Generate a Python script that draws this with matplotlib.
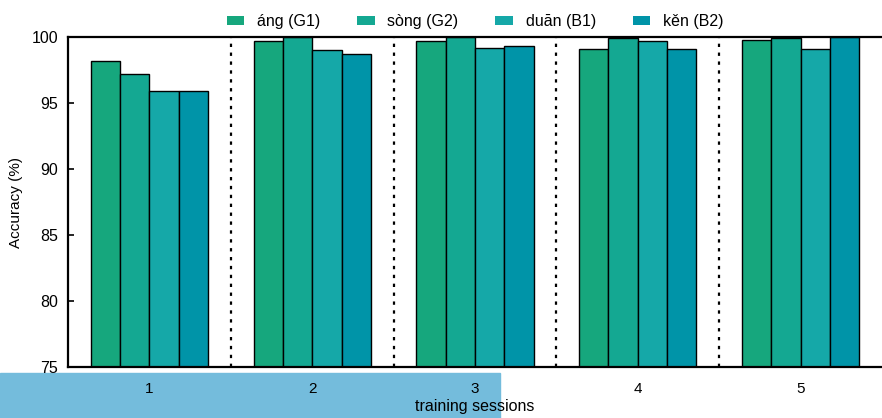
import matplotlib
matplotlib.use("Agg")
import matplotlib.pyplot as plt
from matplotlib.patches import Rectangle
import numpy as np

plt.rcParams["font.family"] = ["Liberation Sans", "DejaVu Sans"]
plt.rcParams["font.size"] = 11

sessions = ["1", "2", "3", "4", "5"]
series = ["áng (G1)", "sòng (G2)", "duān (B1)", "kěn (B2)"]
g1 = [98.2, 99.7, 99.7, 99.1, 99.8]
g2 = [97.2, 100.0, 100.0, 99.9, 99.9]
b1 = [95.9, 99.0, 99.2, 99.7, 99.1]
b2 = [95.9, 98.7, 99.3, 99.1, 100.0]
colors = ["#16a77d", "#14a892", "#15a8a8", "#0094a8"]

BARW = 0.18

fig = plt.figure(figsize=(8.82, 4.18), dpi=100, facecolor="white")
ax = fig.add_axes([68 / 882, 51 / 418, 1 - 68 / 882, 330 / 418])

xs = np.arange(len(sessions))
for i, (name, vals) in enumerate(zip(series, [g1, g2, b1, b2])):
    offs = (i - 1.5) * BARW
    ax.bar(xs + offs, np.array(vals) - 75, bottom=75, width=BARW,
           color=colors[i], edgecolor="black", linewidth=1.0,
           label=name, zorder=2)

# dotted separators between sessions
for s in xs[:-1] + 0.5:
    ax.axvline(s, color="black", ls=(0, (1.5, 2.5)), lw=1.6, zorder=1)

ax.set_xlim(-0.5, len(sessions) - 0.5)
ax.set_ylim(75, 100)
ax.set_yticks([75, 80, 85, 90, 95, 100])
ax.set_xticks(xs, sessions)
ax.tick_params(axis="x", length=0, pad=11)
ax.tick_params(axis="y", direction="in", length=4, width=1.2, pad=7,
               labelsize=11.5)
for sp in ["left", "top", "bottom"]:
    ax.spines[sp].set_linewidth(1.6)
ax.spines["right"].set_visible(False)

ax.set_ylabel("Accuracy (%)", fontsize=11, labelpad=6)
ax.set_xlabel("training sessions", fontsize=11.5, labelpad=2)

leg = ax.legend(loc="lower center", bbox_to_anchor=(0.5, 1.0), ncol=4,
                frameon=False, fontsize=11.5, handlelength=1.1,
                handleheight=0.55, columnspacing=2.3, handletextpad=0.8,
                borderaxespad=0.1)
for h in leg.legend_handles:
    h.set_edgecolor("none")

# light blue overlay block at bottom left of the source image
fig.patches.append(Rectangle((0, 0), 500 / 882, 45 / 418,
                             transform=fig.transFigure, color="#74bcdc",
                             zorder=-1))

fig.savefig("out.png", dpi=100)
